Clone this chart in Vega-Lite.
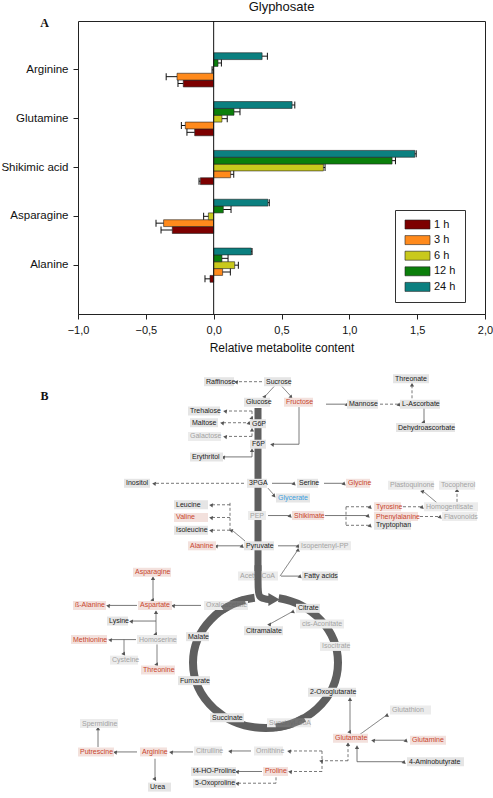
{
"$schema": "https://vega.github.io/schema/vega-lite/v6.json",
"padding": 0,
"background": "white",
"spacing": 10,
"config": {"font": "Liberation Sans"},
"resolve": {"scale": {"x": "independent", "y": "independent", "color": "independent"}},
"datasets": {
"bars": [
{"metabolite":"Arginine","time":"1 h","value":-0.224,"errEnd":-0.263},
{"metabolite":"Arginine","time":"3 h","value":-0.27,"errEnd":-0.35},
{"metabolite":"Arginine","time":"6 h","value":-0.005,"errEnd":-0.012},
{"metabolite":"Arginine","time":"12 h","value":0.032,"errEnd":0.057},
{"metabolite":"Arginine","time":"24 h","value":0.357,"errEnd":0.396},
{"metabolite":"Glutamine","time":"1 h","value":-0.14,"errEnd":-0.197},
{"metabolite":"Glutamine","time":"3 h","value":-0.209,"errEnd":-0.238},
{"metabolite":"Glutamine","time":"6 h","value":0.061,"errEnd":0.1},
{"metabolite":"Glutamine","time":"12 h","value":0.15,"errEnd":0.194},
{"metabolite":"Glutamine","time":"24 h","value":0.578,"errEnd":0.598},
{"metabolite":"Shikimic acid","time":"1 h","value":-0.098,"errEnd":-0.108},
{"metabolite":"Shikimic acid","time":"3 h","value":0.125,"errEnd":0.148},
{"metabolite":"Shikimic acid","time":"6 h","value":0.809,"errEnd":0.821},
{"metabolite":"Shikimic acid","time":"12 h","value":1.315,"errEnd":1.34},
{"metabolite":"Shikimic acid","time":"24 h","value":1.483,"errEnd":1.493},
{"metabolite":"Asparagine","time":"1 h","value":-0.305,"errEnd":-0.388},
{"metabolite":"Asparagine","time":"3 h","value":-0.369,"errEnd":-0.425},
{"metabolite":"Asparagine","time":"6 h","value":-0.039,"errEnd":-0.074},
{"metabolite":"Asparagine","time":"12 h","value":0.071,"errEnd":0.128},
{"metabolite":"Asparagine","time":"24 h","value":0.4,"errEnd":0.41},
{"metabolite":"Alanine","time":"1 h","value":-0.027,"errEnd":-0.064},
{"metabolite":"Alanine","time":"3 h","value":0.066,"errEnd":0.123},
{"metabolite":"Alanine","time":"6 h","value":0.155,"errEnd":0.182},
{"metabolite":"Alanine","time":"12 h","value":0.061,"errEnd":0.106},
{"metabolite":"Alanine","time":"24 h","value":0.278,"errEnd":0.283}
],
"nodes": [
{"name":"Raffinose","l":203,"r":233,"y":378,"status":"detected"},
{"name":"Sucrose","l":263,"r":290,"y":378,"status":"detected"},
{"name":"Glucose","l":243,"r":269,"y":399,"status":"detected"},
{"name":"Fructose","l":283,"r":312,"y":399,"status":"increased"},
{"name":"Mannose","l":346,"r":377,"y":401,"status":"detected"},
{"name":"L-Ascorbate","l":399,"r":439,"y":401,"status":"detected"},
{"name":"Threonate","l":392,"r":428,"y":375,"status":"detected"},
{"name":"Dehydroascorbate","l":395,"r":454,"y":425,"status":"detected"},
{"name":"Trehalose","l":187,"r":219,"y":408,"status":"detected"},
{"name":"Maltose","l":189,"r":217,"y":420,"status":"detected"},
{"name":"Galactose","l":187,"r":220,"y":434,"status":"not measured"},
{"name":"G6P","l":249,"r":265,"y":421,"status":"detected"},
{"name":"F6P","l":249,"r":265,"y":442,"status":"detected"},
{"name":"Erythritol","l":189,"r":222,"y":455,"status":"detected"},
{"name":"Inositol","l":123,"r":149,"y":482,"status":"detected"},
{"name":"3PGA","l":246,"r":266,"y":482,"status":"detected"},
{"name":"Serine","l":296,"r":317,"y":482,"status":"detected"},
{"name":"Glycine","l":345,"r":369,"y":482,"status":"increased"},
{"name":"Glycerate","l":275,"r":309,"y":497,"status":"decreased"},
{"name":"Plastoquinone","l":387,"r":433,"y":484,"status":"not measured"},
{"name":"Tocopherol","l":438,"r":474,"y":484,"status":"not measured"},
{"name":"Homogentisate","l":423,"r":477,"y":506,"status":"not measured"},
{"name":"Tyrosine","l":373,"r":400,"y":506,"status":"increased"},
{"name":"Phenylalanine","l":373,"r":417,"y":516,"status":"increased"},
{"name":"Flavonoids","l":441,"r":476,"y":516,"status":"not measured"},
{"name":"Tryptophan","l":373,"r":410,"y":525,"status":"detected"},
{"name":"Shikimate","l":291,"r":323,"y":515,"status":"increased"},
{"name":"PEP","l":247,"r":265,"y":515,"status":"not measured"},
{"name":"Leucine","l":173,"r":207,"y":504,"status":"detected"},
{"name":"Valine","l":173,"r":207,"y":517,"status":"increased"},
{"name":"Isoleucine","l":173,"r":207,"y":530,"status":"detected"},
{"name":"Alanine","l":187,"r":215,"y":546,"status":"increased"},
{"name":"Pyruvate","l":243,"r":273,"y":546,"status":"detected"},
{"name":"Isopentenyl-PP","l":298,"r":350,"y":546,"status":"not measured"},
{"name":"Acetyl-CoA","l":237,"r":277,"y":577,"status":"not measured"},
{"name":"Fatty acids","l":301,"r":337,"y":577,"status":"detected"},
{"name":"Asparagine","l":132,"r":170,"y":573,"status":"increased"},
{"name":"Aspartate","l":137,"r":171,"y":607,"status":"increased"},
{"name":"ß-Alanine","l":72,"r":105,"y":607,"status":"increased"},
{"name":"Oxaloacetate","l":203,"r":247,"y":607,"status":"not measured"},
{"name":"Lysine","l":106,"r":127,"y":623,"status":"detected"},
{"name":"Homoserine","l":136,"r":176,"y":642,"status":"not measured"},
{"name":"Methionine","l":70,"r":106,"y":642,"status":"increased"},
{"name":"Cysteine","l":109,"r":137,"y":663,"status":"not measured"},
{"name":"Threonine","l":140,"r":174,"y":673,"status":"increased"},
{"name":"Citrate","l":295,"r":319,"y":610,"status":"detected"},
{"name":"Citramalate","l":243,"r":282,"y":633,"status":"detected"},
{"name":"cis-Aconitate","l":299,"r":343,"y":626,"status":"not measured"},
{"name":"Isocitrate","l":319,"r":349,"y":649,"status":"not measured"},
{"name":"Malate","l":185,"r":208,"y":639,"status":"detected"},
{"name":"Fumarate","l":177,"r":209,"y":684,"status":"detected"},
{"name":"2-Oxoglutarate","l":307,"r":355,"y":696,"status":"detected"},
{"name":"Succinate","l":209,"r":243,"y":722,"status":"detected"},
{"name":"Succinyl-CoA","l":266,"r":310,"y":727,"status":"not measured"},
{"name":"Glutathion","l":389,"r":430,"y":714,"status":"not measured"},
{"name":"Glutamate","l":332,"r":367,"y":743,"status":"increased"},
{"name":"Glutamine","l":409,"r":445,"y":745,"status":"increased"},
{"name":"4-Aminobutyrate","l":406,"r":463,"y":767,"status":"detected"},
{"name":"Ornithine","l":253,"r":282,"y":756,"status":"not measured"},
{"name":"Citrulline","l":193,"r":221,"y":756,"status":"not measured"},
{"name":"Arginine","l":139,"r":166,"y":757,"status":"increased"},
{"name":"Putrescine","l":77,"r":113,"y":757,"status":"increased"},
{"name":"Spermidine","l":79,"r":117,"y":728,"status":"not measured"},
{"name":"Urea","l":147,"r":170,"y":793,"status":"detected"},
{"name":"Proline","l":262,"r":287,"y":777,"status":"increased"},
{"name":"t4-HO-Proline","l":190,"r":235,"y":777,"status":"detected"},
{"name":"5-Oxoproline","l":192,"r":235,"y":789,"status":"detected"}
],
"edges": [
{"x":261,"y":378,"x2":236,"y2":378,"style":"dashed"},
{"x":273,"y":383,"x2":264,"y2":393,"style":"solid"},
{"x":281,"y":383,"x2":290,"y2":393,"style":"solid"},
{"x":325,"y":401,"x2":346,"y2":401,"style":"solid"},
{"x":379,"y":401,"x2":398,"y2":401,"style":"dashed"},
{"x":411,"y":395,"x2":411,"y2":381,"style":"dashed"},
{"x":423,"y":405,"x2":423,"y2":419,"style":"solid"},
{"x":298,"y":404,"x2":298,"y2":442,"style":"solid"},
{"x":298,"y":442,"x2":272,"y2":442,"style":"solid"},
{"x":251,"y":408,"x2":225,"y2":408,"style":"dashed"},
{"x":251,"y":408,"x2":251,"y2":415,"style":"dashed"},
{"x":222,"y":420,"x2":248,"y2":420,"style":"dashed"},
{"x":251,"y":434,"x2":225,"y2":434,"style":"dashed"},
{"x":251,"y":434,"x2":251,"y2":427,"style":"dashed"},
{"x":251,"y":455,"x2":223,"y2":455,"style":"solid"},
{"x":251,"y":455,"x2":251,"y2":448,"style":"solid"},
{"x":243,"y":482,"x2":154,"y2":482,"style":"dashed"},
{"x":271,"y":482,"x2":293,"y2":482,"style":"solid"},
{"x":323,"y":482,"x2":343,"y2":482,"style":"solid"},
{"x":267,"y":487,"x2":273,"y2":494,"style":"solid"},
{"x":267,"y":515,"x2":289,"y2":515,"style":"solid"},
{"x":324,"y":515,"x2":367,"y2":515,"style":"solid"},
{"x":345,"y":506,"x2":345,"y2":525,"style":"dashed"},
{"x":345,"y":506,"x2":369,"y2":506,"style":"dashed"},
{"x":345,"y":525,"x2":369,"y2":525,"style":"dashed"},
{"x":402,"y":506,"x2":421,"y2":506,"style":"dashed"},
{"x":419,"y":516,"x2":439,"y2":516,"style":"dashed"},
{"x":436,"y":502,"x2":422,"y2":490,"style":"solid"},
{"x":456,"y":501,"x2":456,"y2":489,"style":"dashed"},
{"x":229,"y":502,"x2":229,"y2":530,"style":"dashed"},
{"x":229,"y":504,"x2":211,"y2":504,"style":"dashed"},
{"x":229,"y":517,"x2":211,"y2":517,"style":"dashed"},
{"x":229,"y":530,"x2":211,"y2":530,"style":"dashed"},
{"x":244,"y":541,"x2":231,"y2":530,"style":"solid"},
{"x":216,"y":546,"x2":241,"y2":546,"style":"solid"},
{"x":277,"y":546,"x2":297,"y2":546,"style":"solid"},
{"x":279,"y":577,"x2":297,"y2":550,"style":"solid"},
{"x":280,"y":577,"x2":299,"y2":577,"style":"solid"},
{"x":152,"y":579,"x2":152,"y2":601,"style":"solid"},
{"x":200,"y":607,"x2":173,"y2":607,"style":"solid"},
{"x":136,"y":607,"x2":108,"y2":607,"style":"solid"},
{"x":155,"y":613,"x2":155,"y2":636,"style":"solid"},
{"x":155,"y":623,"x2":131,"y2":623,"style":"solid"},
{"x":135,"y":642,"x2":110,"y2":642,"style":"solid"},
{"x":123,"y":642,"x2":123,"y2":656,"style":"solid"},
{"x":156,"y":647,"x2":156,"y2":667,"style":"solid"},
{"x":269,"y":626,"x2":292,"y2":613,"style":"solid"},
{"x":349,"y":703,"x2":349,"y2":736,"style":"solid"},
{"x":359,"y":739,"x2":386,"y2":719,"style":"solid"},
{"x":373,"y":745,"x2":405,"y2":745,"style":"solid"},
{"x":356,"y":752,"x2":356,"y2":767,"style":"solid"},
{"x":356,"y":767,"x2":403,"y2":767,"style":"solid"},
{"x":347,"y":749,"x2":347,"y2":766,"style":"dashed"},
{"x":347,"y":766,"x2":321,"y2":766,"style":"dashed"},
{"x":321,"y":756,"x2":321,"y2":777,"style":"dashed"},
{"x":321,"y":756,"x2":289,"y2":756,"style":"dashed"},
{"x":321,"y":777,"x2":290,"y2":777,"style":"dashed"},
{"x":250,"y":756,"x2":230,"y2":756,"style":"solid"},
{"x":192,"y":757,"x2":171,"y2":757,"style":"solid"},
{"x":136,"y":757,"x2":115,"y2":757,"style":"solid"},
{"x":97,"y":752,"x2":97,"y2":733,"style":"solid"},
{"x":154,"y":764,"x2":154,"y2":784,"style":"solid"},
{"x":261,"y":777,"x2":237,"y2":777,"style":"solid"},
{"x":275,"y":783,"x2":275,"y2":789,"style":"dashed"},
{"x":275,"y":789,"x2":237,"y2":789,"style":"dashed"}
],
"heads": [
{"x":236,"y":378,"dir":"left"},{"x":264,"y":393,"dir":"downleft"},{"x":290,"y":393,"dir":"downright"},
{"x":346,"y":401,"dir":"right"},{"x":398,"y":401,"dir":"right"},{"x":411,"y":381,"dir":"up"},
{"x":423,"y":419,"dir":"down"},{"x":272,"y":442,"dir":"left"},{"x":225,"y":408,"dir":"left"},
{"x":251,"y":415,"dir":"down"},{"x":222,"y":420,"dir":"left"},{"x":248,"y":420,"dir":"right"},
{"x":225,"y":434,"dir":"left"},{"x":251,"y":427,"dir":"up"},{"x":223,"y":455,"dir":"left"},
{"x":251,"y":448,"dir":"up"},{"x":154,"y":482,"dir":"left"},{"x":293,"y":482,"dir":"right"},
{"x":343,"y":482,"dir":"right"},{"x":273,"y":494,"dir":"downright"},{"x":289,"y":515,"dir":"right"},
{"x":367,"y":515,"dir":"right"},{"x":369,"y":506,"dir":"right"},{"x":369,"y":525,"dir":"right"},
{"x":421,"y":506,"dir":"right"},{"x":439,"y":516,"dir":"right"},{"x":422,"y":490,"dir":"upleft"},
{"x":456,"y":489,"dir":"up"},{"x":211,"y":504,"dir":"left"},{"x":211,"y":517,"dir":"left"},
{"x":211,"y":530,"dir":"left"},{"x":231,"y":530,"dir":"upleft"},{"x":216,"y":546,"dir":"left"},
{"x":241,"y":546,"dir":"right"},{"x":297,"y":546,"dir":"right"},{"x":297,"y":550,"dir":"upright"},
{"x":299,"y":577,"dir":"right"},{"x":152,"y":579,"dir":"up"},{"x":152,"y":601,"dir":"down"},
{"x":173,"y":607,"dir":"left"},{"x":108,"y":607,"dir":"left"},{"x":155,"y":614,"dir":"up"},
{"x":155,"y":636,"dir":"down"},{"x":131,"y":623,"dir":"left"},{"x":110,"y":642,"dir":"left"},
{"x":123,"y":656,"dir":"down"},{"x":156,"y":667,"dir":"down"},{"x":269,"y":626,"dir":"downleft"},
{"x":292,"y":613,"dir":"upright"},{"x":349,"y":703,"dir":"up"},{"x":349,"y":736,"dir":"down"},
{"x":386,"y":719,"dir":"upright"},{"x":373,"y":745,"dir":"left"},{"x":405,"y":745,"dir":"right"},
{"x":356,"y":752,"dir":"up"},{"x":403,"y":767,"dir":"right"},{"x":347,"y":749,"dir":"up"},
{"x":321,"y":766,"dir":"left"},{"x":289,"y":756,"dir":"left"},{"x":290,"y":777,"dir":"left"},
{"x":230,"y":756,"dir":"left"},{"x":171,"y":757,"dir":"left"},{"x":115,"y":757,"dir":"left"},
{"x":97,"y":733,"dir":"up"},{"x":154,"y":784,"dir":"down"},{"x":237,"y":777,"dir":"left"},
{"x":237,"y":789,"dir":"left"}
],
"cycle": [{"x":264.5,"y":665.5}],
"trunk": [{"x":257,"y":405,"y2":572}],
"trunkEnd": [
{"seq":1,"x":257,"y":566},{"seq":2,"x":257,"y":592},{"seq":3,"x":258,"y":599},{"seq":4,"x":266,"y":601},{"seq":5,"x":271,"y":601}
],
"trunkHead": [{"x":273,"y":601}]
},
"vconcat": [
{
"width": 407,
"height": 293,
"view": {"stroke": "#222", "strokeWidth": 1},
"title": {"text": "Glyphosate", "fontSize": 13, "fontWeight": "normal", "font": "Liberation Sans", "anchor": "middle", "offset": 2, "color": "#111"},
"data": {"name": "bars"},
"layer": [
{
"mark": {"type": "bar", "stroke": "#222", "strokeWidth": 0.6},
"encoding": {
"x": {"field": "value", "type": "quantitative", "title": "Relative metabolite content",
 "scale": {"domain": [-1, 2], "nice": false, "zero": false},
 "axis": {"values": [-1, -0.5, 0, 0.5, 1, 1.5, 2], "labelExpr": "replace(format(datum.value, '.1f'), '.', ',')", "grid": false, "tickSize": 5, "labelPadding": 5, "labelFontSize": 11, "titleFontSize": 12, "titleFontWeight": "normal", "titlePadding": 7, "domainColor": "#222", "tickColor": "#222", "labelColor": "#111", "titleColor": "#111", "labelFlush": false}},
"y": {"field": "metabolite", "type": "nominal", "title": "A",
 "sort": ["Arginine", "Glutamine", "Shikimic acid", "Asparagine", "Alanine"],
 "scale": {"paddingInner": 0.3, "paddingOuter": 0.65},
 "axis": {"titleAngle": 0, "titleX": -34, "titleY": 5, "titleAlign": "center", "titleBaseline": "alphabetic", "titleFont": "Liberation Serif", "titleFontSize": 12, "titleFontWeight": "bold", "titleColor": "#111", "labelFontSize": 11.5, "labelPadding": 5, "tickSize": 5, "domain": false, "grid": false, "tickColor": "#222", "labelColor": "#111"}},
"yOffset": {"field": "time", "type": "nominal", "sort": ["24 h", "12 h", "6 h", "3 h", "1 h"]},
"color": {"field": "time", "type": "nominal",
 "scale": {"domain": ["1 h", "3 h", "6 h", "12 h", "24 h"], "range": ["#7d0000", "#ff8a1c", "#c9c91c", "#0b7f0b", "#0b8080"]},
 "legend": {"orient": "none", "legendX": 317, "legendY": 189, "title": null, "symbolType": "M-2.78,-1H2.78V1H-2.78Z", "symbolSize": 81, "symbolOffset": 8, "labelOffset": 11, "labelAlign": "left", "labelFontSize": 11, "labelColor": "#111", "padding": 9, "rowPadding": 2.6, "strokeColor": "#333", "fillColor": "white", "symbolStrokeColor": "#222", "symbolStrokeWidth": 0.6, "symbolOpacity": 1}}
}
},
{
"mark": {"type": "rule", "color": "#111", "strokeWidth": 1},
"encoding": {
"x": {"field": "value", "type": "quantitative", "title": "Relative metabolite content"},
"x2": {"field": "errEnd"},
"y": {"field": "metabolite", "type": "nominal", "title": "A", "sort": ["Arginine", "Glutamine", "Shikimic acid", "Asparagine", "Alanine"]},
"yOffset": {"field": "time", "type": "nominal", "sort": ["24 h", "12 h", "6 h", "3 h", "1 h"]}
}
},
{
"mark": {"type": "tick", "color": "#111", "size": 7, "thickness": 1, "opacity": 1},
"encoding": {
"x": {"field": "errEnd", "type": "quantitative", "title": "Relative metabolite content"},
"y": {"field": "metabolite", "type": "nominal", "title": "A", "sort": ["Arginine", "Glutamine", "Shikimic acid", "Asparagine", "Alanine"]},
"yOffset": {"field": "time", "type": "nominal", "sort": ["24 h", "12 h", "6 h", "3 h", "1 h"]}
}
},
{
"data": {"values": [{"zero": 0}]},
"mark": {"type": "rule", "color": "#111", "strokeWidth": 1},
"encoding": {"x": {"field": "zero", "type": "quantitative", "title": "Relative metabolite content"}}
}
]
},
{
"width": 407,
"height": 433,
"view": {"stroke": null},
"layer": [
{
"data": {"name": "cycle"},
"mark": {"type": "point", "shape": "M1,0C1,0.4987 0.5523,0.903 0,0.903C-0.5523,0.903 -1,0.4987 -1,0C-1,-0.4987 -0.5523,-0.903 0,-0.903C0.5523,-0.903 1,-0.4987 1,0", "size": 21025, "filled": false, "color": "#5f5f5f", "strokeWidth": 8, "opacity": 1, "strokeDash": [314, 24, 200]},
"encoding": {
"x": {"field": "x", "type": "quantitative", "scale": {"domain": [77, 484], "nice": false, "zero": false}, "axis": null},
"y": {"field": "y", "type": "quantitative", "title": "B", "scale": {"domain": [365, 798], "nice": false, "zero": false, "reverse": true},
 "axis": {"labels": false, "ticks": false, "domain": false, "grid": false, "titleAngle": 0, "titleX": -34, "titleY": 35, "titleAlign": "center", "titleBaseline": "alphabetic", "titleFont": "Liberation Serif", "titleFontSize": 12, "titleFontWeight": "bold", "titleColor": "#111"}}
}
},
{
"data": {"name": "trunk"},
"mark": {"type": "rule", "color": "#5f5f5f", "strokeWidth": 7},
"encoding": {
"x": {"field": "x", "type": "quantitative", "axis": null},
"y": {"field": "y", "type": "quantitative", "title": "B"},
"y2": {"field": "y2"}
}
},
{
"data": {"name": "edges"},
"mark": {"type": "rule", "color": "#555", "strokeWidth": 0.8},
"encoding": {
"x": {"field": "x", "type": "quantitative", "axis": null},
"y": {"field": "y", "type": "quantitative", "title": "B"},
"x2": {"field": "x2"},
"y2": {"field": "y2"},
"strokeDash": {"field": "style", "type": "nominal", "scale": {"domain": ["solid", "dashed"], "range": [[1, 0], [3, 2]]}, "legend": null}
}
},
{
"data": {"name": "heads"},
"mark": {"type": "point", "shape": "triangle-up", "filled": true, "size": 18, "color": "#555", "opacity": 1},
"encoding": {
"x": {"field": "x", "type": "quantitative", "axis": null},
"y": {"field": "y", "type": "quantitative", "title": "B"},
"angle": {"field": "dir", "type": "nominal", "scale": {"domain": ["up", "upright", "right", "downright", "down", "downleft", "left", "upleft"], "range": [0, 45, 90, 135, 180, 225, 270, 315]}, "legend": null}
}
},
{
"data": {"name": "nodes"},
"mark": {"type": "bar", "orient": "horizontal", "size": 9, "stroke": null},
"encoding": {
"x": {"field": "l", "type": "quantitative", "axis": null},
"x2": {"field": "r"},
"y": {"field": "y", "type": "quantitative", "title": "B"},
"fill": {"field": "status", "type": "nominal", "scale": {"domain": ["increased", "detected", "not measured", "decreased"], "range": ["#f3e1dd", "#e5e5e5", "#ececec", "#e6e6e6"]}, "legend": null}
}
},
{
"data": {"name": "nodes"},
"mark": {"type": "text", "align": "left", "baseline": "middle", "dx": 2, "fontSize": 7, "font": "Liberation Sans"},
"encoding": {
"x": {"field": "l", "type": "quantitative", "axis": null},
"y": {"field": "y", "type": "quantitative", "title": "B"},
"text": {"field": "name"},
"color": {"field": "status", "type": "nominal", "scale": {"domain": ["increased", "detected", "not measured", "decreased"], "range": ["#c8452d", "#1a1a1a", "#a3a3a3", "#3b9fe0"]}, "legend": null}
}
},
{
"data": {"name": "cycle"},
"mark": {"type": "point", "shape": "M1,0C1,0.4987 0.5523,0.903 0,0.903C-0.5523,0.903 -1,0.4987 -1,0C-1,-0.4987 -0.5523,-0.903 0,-0.903C0.5523,-0.903 1,-0.4987 1,0", "size": 21025, "filled": false, "color": "#5f5f5f", "strokeWidth": 8, "opacity": 0.85, "strokeDash": [0, 68, 30, 182, 24, 200]},
"encoding": {
"x": {"field": "x", "type": "quantitative", "axis": null},
"y": {"field": "y", "type": "quantitative", "title": "B"}
}
},
{
"data": {"name": "trunkEnd"},
"mark": {"type": "line", "color": "#5f5f5f", "strokeWidth": 7, "interpolate": "basis"},
"encoding": {
"x": {"field": "x", "type": "quantitative", "axis": null},
"y": {"field": "y", "type": "quantitative", "title": "B"},
"order": {"field": "seq"}
}
},
{
"data": {"name": "trunkHead"},
"mark": {"type": "point", "shape": "triangle-right", "filled": true, "size": 170, "color": "#5f5f5f", "opacity": 1},
"encoding": {
"x": {"field": "x", "type": "quantitative", "axis": null},
"y": {"field": "y", "type": "quantitative", "title": "B"}
}
}
]
}
]
}
